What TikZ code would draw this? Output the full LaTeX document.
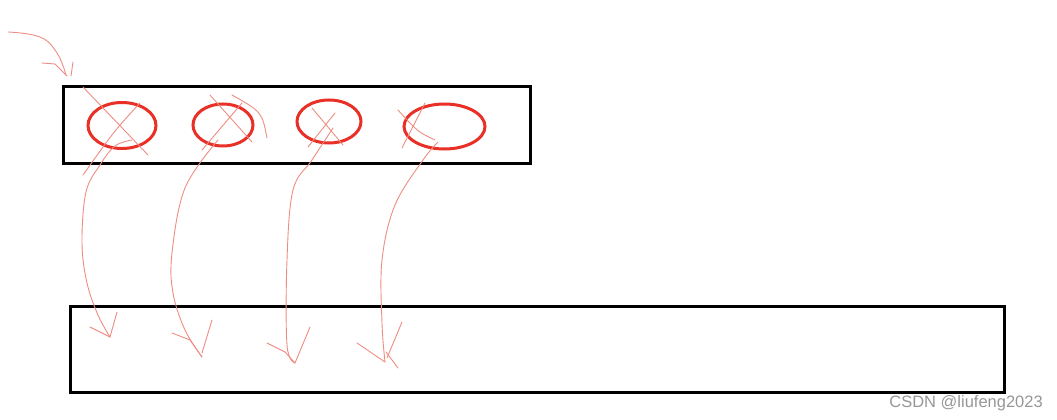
\documentclass[tikz,border=0pt]{standalone}
\usepackage{fontspec}
\newfontfamily\markfont{Liberation Sans}
\usetikzlibrary{shapes.geometric}
\definecolor{ringred}{RGB}{232,48,38}
\definecolor{penred}{RGB}{238,140,130}
\definecolor{markgray}{RGB}{150,150,150}
\tikzset{
  box/.style = {draw=black, line width=3pt, inner sep=0pt},
  ring/.style = {ellipse, draw=ringred, line width=3pt, inner sep=0pt},% cercle rouge
  pen/.style = {draw=penred, line width=0.9pt, line cap=round, line join=round},% trait a main levee
  marktext/.style = {inner sep=0pt, text=markgray, font=\markfont\fontsize{16.5}{18}\selectfont}
}

\begin{document}
\begin{tikzpicture}[x=1pt,y=-1pt]
  \useasboundingbox (0,0) rectangle (1057,420);
  % boites
  \node [box, minimum width=467pt, minimum height=77pt] (buf) at (296.5,124.5) {};
  \node [box, minimum width=934pt, minimum height=86pt] (mem) at (537,349) {};
  % cercles
  \node [ring, minimum width=68pt, minimum height=46pt] (e1) at (122,125.5) {};
  \node [ring, minimum width=60pt, minimum height=42pt] (e2) at (223,125) {};
  \node [ring, minimum width=64pt, minimum height=43pt] (e3) at (329,121.5) {};
  \node [ring, minimum width=81pt, minimum height=45pt] (e4) at (444.5,126.5) {};
  % fleche d'entree
  \coordinate (in0) at (8,32);
  \coordinate (in1) at (66,75);
  \draw [pen] plot [smooth, tension=0.7] coordinates {(in0) (40,37) (57,53) (in1)};
  \draw [pen] (42,63) -- (55,64) -- (67,76);
  \draw [pen] (73,62) -- (71,76);
  % croix
  \draw [pen] (83,87) -- (148,155);
  \draw [pen] (140,103) .. controls (115,130) .. (83,175);
  \draw [pen] (210,95) -- (252,142);
  \draw [pen] (242,103) -- (202,150);
  \draw [pen] (232,95) .. controls (262,112) .. (267,138);
  \draw [pen] (312,108) -- (343,145);
  \draw [pen] (335,113) -- (308,147);
  \draw [pen] (398,110) .. controls (418,132) .. (435,140);
  \draw [pen] (425,103) -- (402,148);
  % fleches vers le bas
  \coordinate (s1) at (132,140);
  \coordinate (t1) at (110,337);
  \draw [pen] plot [smooth, tension=0.6] coordinates {(s1) (115,146) (100,165) (86,192) (82,243) (87,283) (98,315) (t1)};
  \draw [pen] (90,327) -- (t1) -- (117,312);
  \coordinate (s2) at (218,140);
  \coordinate (t2) at (202,357);
  \draw [pen] plot [smooth, tension=0.6] coordinates {(s2) (185,188) (172,253) (173,293) (185,330) (t2)};
  \draw [pen] (172,333) -- (190,340) -- (t2);
  \draw [pen] (212,320) -- (202,353);
  \coordinate (s3) at (333,128);
  \coordinate (t3) at (295,363);
  \draw [pen] plot [smooth, tension=0.6] coordinates {(s3) (312,160) (293,190) (287,260) (287,345) (t3)};
  \draw [pen] (267,343) -- (285,352) -- (t3) -- (310,327);
  \coordinate (s4) at (438,142);
  \coordinate (t4) at (385,362);
  \draw [pen] plot [smooth, tension=0.6] coordinates {(s4) (423,160) (395,205) (382,260) (382,323) (t4)};
  \draw [pen] (357,343) -- (t4);
  \draw [pen] (402,322) -- (387,358);
  \draw [pen] (386,352) -- (398,368);
  % filigrane
  \node [marktext, anchor=base east] (mark) at (1043,407) {CSDN @liufeng2023};
\end{tikzpicture}
\end{document}
